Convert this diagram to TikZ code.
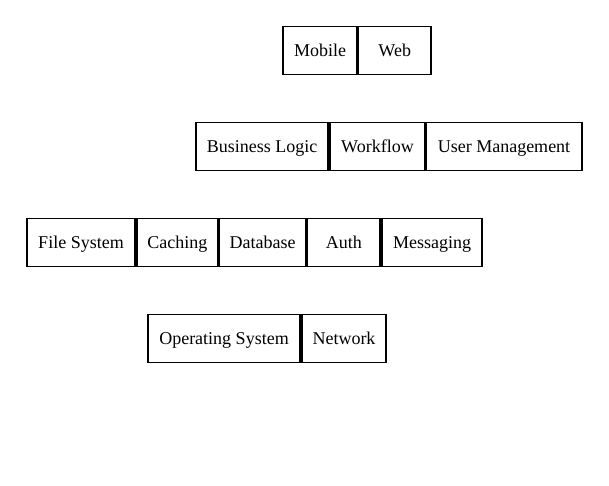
\documentclass[tikz,border=0pt]{standalone}
\usepackage{fontspec}
\setmainfont{Liberation Serif}
\begin{document}
\begin{tikzpicture}[x=1pt,y=-1pt,
  layerbox/.style={draw=black, line width=1.2pt, fill=white, inner sep=0pt,
    minimum height=48pt, text height=12.5pt, text depth=0pt,
    font=\fontsize{18}{21}\selectfont, text=black}]
\useasboundingbox[fill=white] (0,0) rectangle (609,485);
% Row 1
\node[layerbox, minimum width=74pt] (mobile) at (320,50.5) {Mobile};
\node[layerbox, minimum width=72.5pt] (web) at (394.75,50.5) {Web};
% Row 2
\node[layerbox, minimum width=132pt] (bl) at (262,146.5) {Business Logic};
\node[layerbox, minimum width=95pt] (wf) at (377.5,146.5) {Workflow};
\node[layerbox, minimum width=156pt] (um) at (504,146.5) {User Management};
% Row 3
\node[layerbox, minimum width=108pt] (fs) at (81,242.5) {File System};
\node[layerbox, minimum width=80.5pt] (cache) at (177.25,242.5) {Caching};
\node[layerbox, minimum width=87pt] (db) at (262.5,242.5) {Database};
\node[layerbox, minimum width=72.5pt] (auth) at (343.75,242.5) {Auth};
\node[layerbox, minimum width=100pt] (msg) at (432,242.5) {Messaging};
% Row 4
\node[layerbox, minimum width=152pt] (os) at (224,338.5) {Operating System};
\node[layerbox, minimum width=84pt] (net) at (344,338.5) {Network};
\end{tikzpicture}
\end{document}
